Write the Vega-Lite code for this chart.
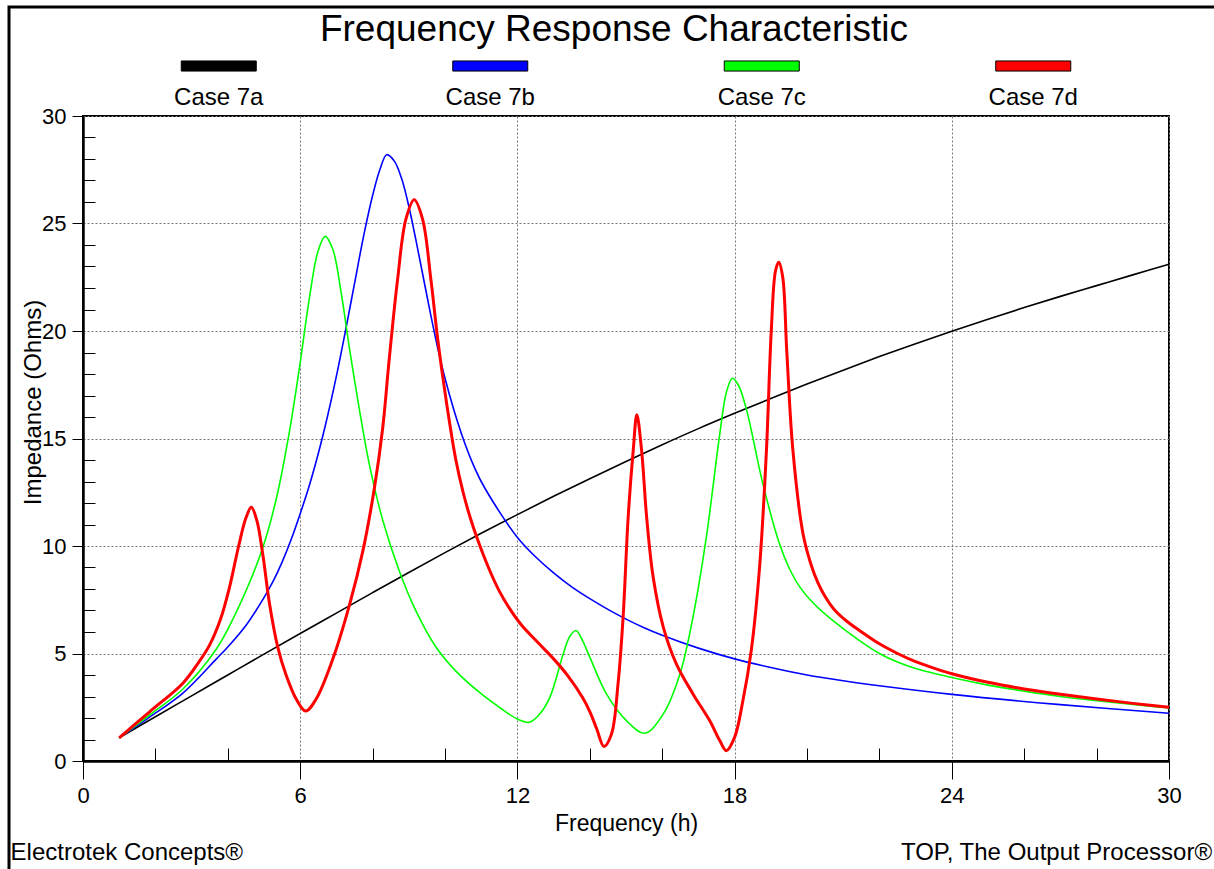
{
  "$schema": "https://vega.github.io/schema/vega-lite/v6.json",
  "width": 1086,
  "height": 645,
  "autosize": {"type": "none"},
  "padding": {"left": 83, "top": 116, "right": 45, "bottom": 108},
  "background": "white",
  "config": {
    "font": "Liberation Sans",
    "view": {"stroke": "#000", "strokeWidth": 2},
    "axis": {"labelColor": "#000", "titleColor": "#000", "tickColor": "#000", "domainColor": "#000", "labelOverlap": false, "labelFlush": false, "titleFontWeight": "normal"}
  },
  "title": {
    "text": "Frequency Response Characteristic",
    "fontSize": 37,
    "fontWeight": "normal",
    "color": "#000",
    "anchor": "middle",
    "frame": "group",
    "baseline": "alphabetic",
    "dx": -12,
    "dy": 37,
    "offset": -36
  },
  "datasets": {
    "curves": [
      {"case":"Case 7a","h":1,"z":1.08},{"case":"Case 7a","h":2,"z":2.06},{"case":"Case 7a","h":3,"z":3.03},{"case":"Case 7a","h":4,"z":4.0},{"case":"Case 7a","h":5,"z":4.97},{"case":"Case 7a","h":6,"z":5.93},{"case":"Case 7a","h":7,"z":6.88},{"case":"Case 7a","h":8,"z":7.83},{"case":"Case 7a","h":9,"z":8.77},{"case":"Case 7a","h":10,"z":9.69},{"case":"Case 7a","h":11,"z":10.59},{"case":"Case 7a","h":12,"z":11.46},{"case":"Case 7a","h":13,"z":12.31},{"case":"Case 7a","h":14,"z":13.13},{"case":"Case 7a","h":15,"z":13.93},{"case":"Case 7a","h":16,"z":14.71},{"case":"Case 7a","h":17,"z":15.46},{"case":"Case 7a","h":18,"z":16.17},{"case":"Case 7a","h":19,"z":16.86},{"case":"Case 7a","h":20,"z":17.53},{"case":"Case 7a","h":21,"z":18.18},{"case":"Case 7a","h":22,"z":18.81},{"case":"Case 7a","h":23,"z":19.41},{"case":"Case 7a","h":24,"z":19.99},{"case":"Case 7a","h":25,"z":20.55},{"case":"Case 7a","h":26,"z":21.09},{"case":"Case 7a","h":27,"z":21.61},{"case":"Case 7a","h":28,"z":22.11},{"case":"Case 7a","h":29,"z":22.61},{"case":"Case 7a","h":30,"z":23.1},
      {"case":"Case 7b","h":1,"z":1.08},{"case":"Case 7b","h":1.84,"z":2.04},{"case":"Case 7b","h":2.76,"z":3.16},{"case":"Case 7b","h":3.68,"z":4.74},{"case":"Case 7b","h":4.0,"z":5.3},{"case":"Case 7b","h":4.5,"z":6.3},{"case":"Case 7b","h":5.0,"z":7.6},{"case":"Case 7b","h":5.25,"z":8.35},{"case":"Case 7b","h":5.5,"z":9.25},{"case":"Case 7b","h":5.75,"z":10.3},{"case":"Case 7b","h":6.0,"z":11.5},{"case":"Case 7b","h":6.25,"z":12.8},{"case":"Case 7b","h":6.5,"z":14.3},{"case":"Case 7b","h":6.75,"z":16.0},{"case":"Case 7b","h":7.0,"z":17.9},{"case":"Case 7b","h":7.25,"z":20.0},{"case":"Case 7b","h":7.5,"z":22.2},{"case":"Case 7b","h":7.75,"z":24.4},{"case":"Case 7b","h":8.0,"z":26.3},{"case":"Case 7b","h":8.2,"z":27.5},{"case":"Case 7b","h":8.39,"z":28.2},{"case":"Case 7b","h":8.6,"z":27.9},{"case":"Case 7b","h":8.8,"z":27.1},{"case":"Case 7b","h":9.0,"z":25.8},{"case":"Case 7b","h":9.2,"z":24.2},{"case":"Case 7b","h":9.4,"z":22.5},{"case":"Case 7b","h":9.6,"z":20.8},{"case":"Case 7b","h":9.8,"z":19.2},{"case":"Case 7b","h":10.0,"z":17.8},{"case":"Case 7b","h":10.25,"z":16.3},{"case":"Case 7b","h":10.5,"z":15.0},{"case":"Case 7b","h":10.75,"z":13.9},{"case":"Case 7b","h":11.0,"z":13.0},{"case":"Case 7b","h":11.5,"z":11.6},{"case":"Case 7b","h":12.0,"z":10.4},{"case":"Case 7b","h":12.5,"z":9.5},{"case":"Case 7b","h":13.0,"z":8.75},{"case":"Case 7b","h":13.5,"z":8.1},{"case":"Case 7b","h":14.0,"z":7.55},{"case":"Case 7b","h":14.5,"z":7.05},{"case":"Case 7b","h":15.0,"z":6.6},{"case":"Case 7b","h":15.5,"z":6.2},{"case":"Case 7b","h":16.0,"z":5.85},{"case":"Case 7b","h":17.0,"z":5.25},{"case":"Case 7b","h":18.0,"z":4.75},{"case":"Case 7b","h":19.0,"z":4.35},{"case":"Case 7b","h":20.0,"z":4.0},{"case":"Case 7b","h":21.0,"z":3.73},{"case":"Case 7b","h":22.0,"z":3.5},{"case":"Case 7b","h":24.0,"z":3.1},{"case":"Case 7b","h":27.0,"z":2.62},{"case":"Case 7b","h":30.0,"z":2.22},
      {"case":"Case 7c","h":1,"z":1.08},{"case":"Case 7c","h":1.84,"z":2.14},{"case":"Case 7c","h":2.76,"z":3.35},{"case":"Case 7c","h":3.68,"z":5.2},{"case":"Case 7c","h":4.14,"z":6.6},{"case":"Case 7c","h":4.6,"z":8.3},{"case":"Case 7c","h":4.97,"z":9.94},{"case":"Case 7c","h":5.34,"z":12.2},{"case":"Case 7c","h":5.7,"z":15.3},{"case":"Case 7c","h":5.98,"z":18.3},{"case":"Case 7c","h":6.26,"z":21.6},{"case":"Case 7c","h":6.49,"z":23.7},{"case":"Case 7c","h":6.69,"z":24.4},{"case":"Case 7c","h":6.9,"z":23.8},{"case":"Case 7c","h":7.13,"z":21.8},{"case":"Case 7c","h":7.36,"z":19.2},{"case":"Case 7c","h":7.64,"z":16.3},{"case":"Case 7c","h":7.91,"z":13.8},{"case":"Case 7c","h":8.28,"z":11.2},{"case":"Case 7c","h":8.74,"z":8.83},{"case":"Case 7c","h":9.2,"z":6.97},{"case":"Case 7c","h":9.75,"z":5.3},{"case":"Case 7c","h":10.3,"z":4.18},{"case":"Case 7c","h":11.04,"z":3.07},{"case":"Case 7c","h":11.5,"z":2.5},{"case":"Case 7c","h":12.0,"z":1.95},{"case":"Case 7c","h":12.33,"z":1.8},{"case":"Case 7c","h":12.6,"z":2.15},{"case":"Case 7c","h":12.9,"z":2.97},{"case":"Case 7c","h":13.27,"z":5.0},{"case":"Case 7c","h":13.45,"z":5.8},{"case":"Case 7c","h":13.62,"z":6.07},{"case":"Case 7c","h":13.8,"z":5.6},{"case":"Case 7c","h":14.0,"z":4.83},{"case":"Case 7c","h":14.46,"z":3.12},{"case":"Case 7c","h":15.01,"z":1.88},{"case":"Case 7c","h":15.52,"z":1.29},{"case":"Case 7c","h":16.03,"z":2.19},{"case":"Case 7c","h":16.49,"z":4.05},{"case":"Case 7c","h":16.85,"z":6.69},{"case":"Case 7c","h":17.22,"z":10.42},{"case":"Case 7c","h":17.59,"z":15.2},{"case":"Case 7c","h":17.78,"z":17.2},{"case":"Case 7c","h":17.94,"z":17.8},{"case":"Case 7c","h":18.1,"z":17.5},{"case":"Case 7c","h":18.32,"z":16.4},{"case":"Case 7c","h":18.78,"z":12.9},{"case":"Case 7c","h":19.24,"z":10.1},{"case":"Case 7c","h":19.5,"z":9.0},{"case":"Case 7c","h":19.8,"z":8.1},{"case":"Case 7c","h":20.2,"z":7.3},{"case":"Case 7c","h":20.7,"z":6.55},{"case":"Case 7c","h":21.45,"z":5.6},{"case":"Case 7c","h":22,"z":5.0},{"case":"Case 7c","h":22.5,"z":4.6},{"case":"Case 7c","h":23,"z":4.3},{"case":"Case 7c","h":24,"z":3.88},{"case":"Case 7c","h":25,"z":3.53},{"case":"Case 7c","h":26,"z":3.25},{"case":"Case 7c","h":27,"z":3.0},{"case":"Case 7c","h":28,"z":2.8},{"case":"Case 7c","h":29,"z":2.63},{"case":"Case 7c","h":30,"z":2.47},
      {"case":"Case 7d","h":1,"z":1.08},{"case":"Case 7d","h":1.84,"z":2.29},{"case":"Case 7d","h":2.76,"z":3.62},{"case":"Case 7d","h":3.2,"z":4.6},{"case":"Case 7d","h":3.5,"z":5.4},{"case":"Case 7d","h":3.8,"z":6.6},{"case":"Case 7d","h":4.05,"z":8.1},{"case":"Case 7d","h":4.3,"z":10.0},{"case":"Case 7d","h":4.5,"z":11.3},{"case":"Case 7d","h":4.65,"z":11.8},{"case":"Case 7d","h":4.8,"z":11.2},{"case":"Case 7d","h":4.97,"z":9.57},{"case":"Case 7d","h":5.15,"z":7.34},{"case":"Case 7d","h":5.38,"z":5.3},{"case":"Case 7d","h":5.61,"z":4.0},{"case":"Case 7d","h":5.89,"z":2.88},{"case":"Case 7d","h":6.15,"z":2.32},{"case":"Case 7d","h":6.44,"z":2.88},{"case":"Case 7d","h":6.9,"z":4.74},{"case":"Case 7d","h":7.36,"z":7.25},{"case":"Case 7d","h":7.73,"z":9.76},{"case":"Case 7d","h":8.05,"z":12.7},{"case":"Case 7d","h":8.28,"z":15.5},{"case":"Case 7d","h":8.46,"z":18.7},{"case":"Case 7d","h":8.69,"z":22.4},{"case":"Case 7d","h":8.92,"z":25.2},{"case":"Case 7d","h":9.15,"z":26.1},{"case":"Case 7d","h":9.38,"z":25.2},{"case":"Case 7d","h":9.61,"z":22.4},{"case":"Case 7d","h":9.8,"z":19.6},{"case":"Case 7d","h":10.03,"z":16.8},{"case":"Case 7d","h":10.3,"z":14.0},{"case":"Case 7d","h":10.5,"z":12.5},{"case":"Case 7d","h":10.7,"z":11.3},{"case":"Case 7d","h":10.9,"z":10.3},{"case":"Case 7d","h":11.2,"z":9.0},{"case":"Case 7d","h":11.5,"z":7.9},{"case":"Case 7d","h":11.8,"z":7.05},{"case":"Case 7d","h":12.1,"z":6.35},{"case":"Case 7d","h":12.6,"z":5.45},{"case":"Case 7d","h":13.0,"z":4.75},{"case":"Case 7d","h":13.4,"z":3.95},{"case":"Case 7d","h":13.8,"z":2.95},{"case":"Case 7d","h":14.0,"z":2.3},{"case":"Case 7d","h":14.19,"z":1.5},{"case":"Case 7d","h":14.39,"z":0.68},{"case":"Case 7d","h":14.6,"z":1.26},{"case":"Case 7d","h":14.78,"z":3.59},{"case":"Case 7d","h":14.92,"z":6.69},{"case":"Case 7d","h":15.06,"z":11.35},{"case":"Case 7d","h":15.2,"z":14.46},{"case":"Case 7d","h":15.3,"z":16.1},{"case":"Case 7d","h":15.43,"z":14.46},{"case":"Case 7d","h":15.57,"z":11.35},{"case":"Case 7d","h":15.75,"z":8.56},{"case":"Case 7d","h":16.03,"z":6.23},{"case":"Case 7d","h":16.39,"z":4.52},{"case":"Case 7d","h":16.85,"z":3.12},{"case":"Case 7d","h":17.31,"z":1.88},{"case":"Case 7d","h":17.59,"z":0.95},{"case":"Case 7d","h":17.77,"z":0.48},{"case":"Case 7d","h":18.0,"z":1.1},{"case":"Case 7d","h":18.23,"z":2.81},{"case":"Case 7d","h":18.46,"z":5.14},{"case":"Case 7d","h":18.69,"z":9.02},{"case":"Case 7d","h":18.88,"z":14.46},{"case":"Case 7d","h":19.01,"z":19.9},{"case":"Case 7d","h":19.13,"z":22.8},{"case":"Case 7d","h":19.22,"z":23.2},{"case":"Case 7d","h":19.33,"z":22.5},{"case":"Case 7d","h":19.44,"z":19.1},{"case":"Case 7d","h":19.61,"z":14.46},{"case":"Case 7d","h":19.89,"z":10.57},{"case":"Case 7d","h":20.1,"z":9.2},{"case":"Case 7d","h":20.3,"z":8.3},{"case":"Case 7d","h":20.5,"z":7.65},{"case":"Case 7d","h":20.75,"z":7.05},{"case":"Case 7d","h":21.1,"z":6.5},{"case":"Case 7d","h":21.45,"z":6.07},{"case":"Case 7d","h":22,"z":5.45},{"case":"Case 7d","h":22.5,"z":5.0},{"case":"Case 7d","h":23,"z":4.62},{"case":"Case 7d","h":23.5,"z":4.32},{"case":"Case 7d","h":24,"z":4.06},{"case":"Case 7d","h":25,"z":3.66},{"case":"Case 7d","h":26,"z":3.35},{"case":"Case 7d","h":27,"z":3.1},{"case":"Case 7d","h":28,"z":2.88},{"case":"Case 7d","h":29,"z":2.68},{"case":"Case 7d","h":30,"z":2.5}
    ],
    "cases": [{"case":"Case 7a"},{"case":"Case 7b"},{"case":"Case 7c"},{"case":"Case 7d"}]
  },
  "layer": [
    {
      "data": {"name": "curves"},
      "transform": [{"filter": "datum['case'] != 'Case 7d'"}],
      "mark": {"type": "line", "interpolate": "catmull-rom", "strokeWidth": 1.6},
      "encoding": {
        "x": {"field": "h", "type": "quantitative", "scale": {"domain": [0, 30], "nice": false},
          "axis": {"orient": "bottom", "values": [0, 6, 12, 18, 24, 30], "tickSize": 18, "tickWidth": 1, "domainWidth": 2.5, "grid": true, "gridColor": "#777", "gridDash": [2, 2], "gridWidth": 1, "labelFontSize": 22, "labelPadding": 6, "title": "Frequency (h)", "titleFontSize": 23, "titlePadding": 6}},
        "y": {"field": "z", "type": "quantitative", "scale": {"domain": [0, 30], "nice": false},
          "axis": {"orient": "left", "values": [0, 5, 10, 15, 20, 25, 30], "tickSize": 11, "tickWidth": 1, "domainWidth": 2.5, "grid": true, "gridColor": "#777", "gridDash": [2, 2], "gridWidth": 1, "labelFontSize": 22, "labelPadding": 6, "title": "Impedance (Ohms)", "titleFontSize": 24, "titleAngle": -90, "titleBaseline": "middle", "titleX": -50, "titleY": 286}},
        "color": {"field": "case", "type": "nominal", "scale": {"domain": ["Case 7a", "Case 7b", "Case 7c", "Case 7d"], "range": ["#000000", "#0000ff", "#00ff00", "#ff0000"]}, "legend": null}
      }
    },
    {
      "data": {"name": "curves"},
      "transform": [{"filter": "datum['case'] == 'Case 7d'"}],
      "mark": {"type": "line", "interpolate": "catmull-rom", "strokeWidth": 3},
      "encoding": {
        "x": {"field": "h", "type": "quantitative", "scale": {"domain": [0, 30], "nice": false},
          "axis": {"orient": "bottom", "values": [2, 4, 8, 10, 14, 16, 20, 22, 26, 28], "tickSize": -13, "tickWidth": 1, "domain": false, "labels": false, "grid": false, "title": null}},
        "y": {"field": "z", "type": "quantitative", "scale": {"domain": [0, 30], "nice": false},
          "axis": {"orient": "left", "values": [1, 2, 3, 4, 6, 7, 8, 9, 11, 12, 13, 14, 16, 17, 18, 19, 21, 22, 23, 24, 26, 27, 28, 29], "tickSize": -12, "tickWidth": 1, "domain": false, "labels": false, "grid": false, "title": null}},
        "color": {"field": "case", "type": "nominal", "legend": null}
      }
    },
    {
      "data": {"name": "cases"},
      "encoding": {
        "x": {"field": "case", "type": "nominal", "scale": {"domain": ["Case 7a", "Case 7b", "Case 7c", "Case 7d"], "paddingInner": 0, "paddingOuter": 0}, "axis": null}
      },
      "layer": [
        {
          "mark": {"type": "bar", "width": 75, "stroke": "#000", "strokeWidth": 1},
          "encoding": {
            "y": {"datum": 32.56, "type": "quantitative", "scale": {"domain": [0, 30], "nice": false}, "axis": null},
            "y2": {"datum": 32.09},
            "color": {"field": "case", "type": "nominal", "legend": null}
          }
        },
        {
          "mark": {"type": "text", "fontSize": 24, "baseline": "middle", "align": "center", "color": "#000"},
          "encoding": {
            "y": {"datum": 30.85, "type": "quantitative", "scale": {"domain": [0, 30], "nice": false}, "axis": null},
            "text": {"field": "case", "type": "nominal"}
          }
        }
      ]
    },
    {
      "data": {"values": [{}]},
      "layer": [
        {
          "mark": {"type": "rect", "fill": "transparent", "stroke": "#000", "strokeWidth": 3},
          "encoding": {
            "x": {"datum": -2.044, "type": "quantitative", "scale": {"domain": [0, 30], "nice": false}, "axis": null},
            "x2": {"datum": 33},
            "y": {"datum": 35.07, "type": "quantitative", "scale": {"domain": [0, 30], "nice": false}, "axis": null},
            "y2": {"datum": -6}
          }
        },
        {
          "mark": {"type": "text", "text": "Electrotek Concepts®", "fontSize": 24, "align": "left", "baseline": "middle", "color": "#000"},
          "encoding": {
            "x": {"datum": -2.0, "type": "quantitative"},
            "y": {"datum": -4.28, "type": "quantitative"}
          }
        },
        {
          "mark": {"type": "text", "text": "TOP, The Output Processor®", "fontSize": 24, "align": "right", "baseline": "middle", "color": "#000"},
          "encoding": {
            "x": {"datum": 31.19, "type": "quantitative"},
            "y": {"datum": -4.28, "type": "quantitative"}
          }
        }
      ]
    }
  ],
  "resolve": {"scale": {"x": "independent", "y": "independent"}, "axis": {"x": "independent", "y": "independent"}}
}
